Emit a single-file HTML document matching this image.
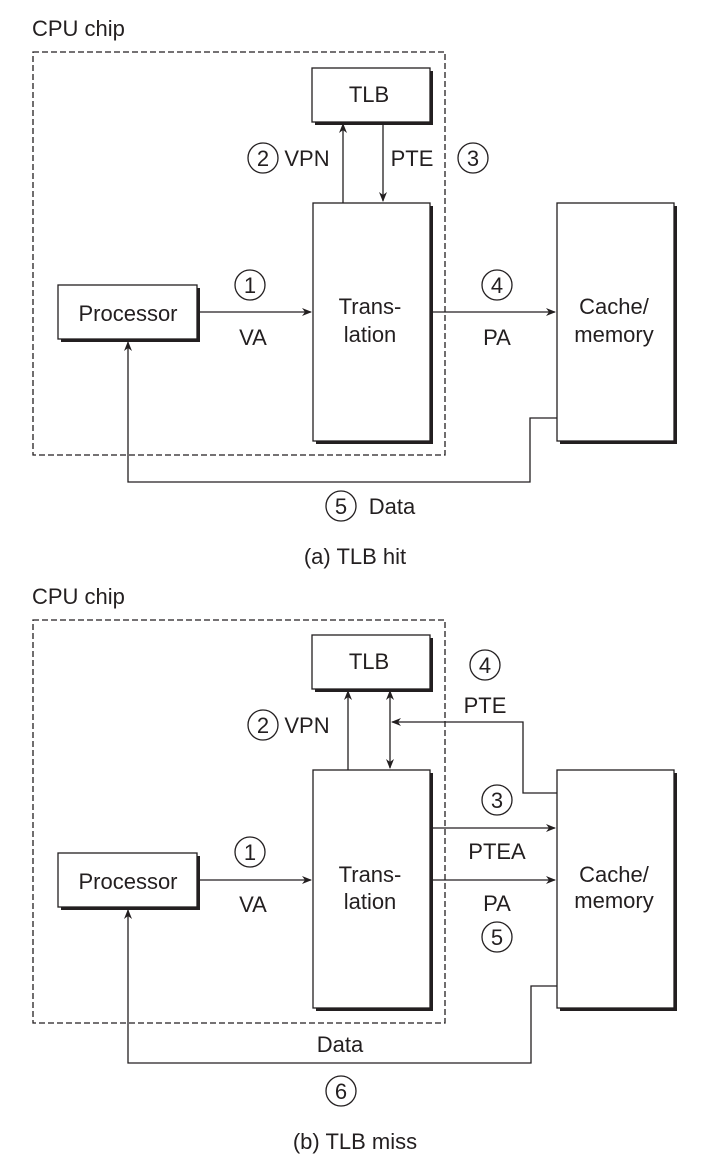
<!DOCTYPE html>
<html><head><meta charset="utf-8"><style>
html,body{margin:0;padding:0;background:#fff;}
svg{display:block}
text{font-family:"Liberation Sans",Arial,sans-serif;fill:#231f20;}
</style></head><body>
<svg width="728" height="1172" viewBox="0 0 728 1172" xmlns="http://www.w3.org/2000/svg">
<defs>
<marker id="ah" markerWidth="10" markerHeight="8" refX="9" refY="4" orient="auto" markerUnits="userSpaceOnUse">
<path d="M0,0 L10,4 L0,8 L3,4 Z" fill="#231f20"/></marker>
<marker id="as" markerWidth="10" markerHeight="8" refX="1" refY="4" orient="auto" markerUnits="userSpaceOnUse">
<path d="M10,0 L0,4 L10,8 L7,4 Z" fill="#231f20"/></marker>
</defs>
<g stroke="#231f20" fill="none" stroke-width="1.3">
<rect x="33" y="52" width="412" height="403" stroke-dasharray="6,3"/>
</g>
<g stroke="#231f20" stroke-width="1.3">
<g fill="#231f20" stroke="none">
<rect x="315" y="71" width="118" height="54"/>
<rect x="316" y="206" width="117" height="238"/>
<rect x="61" y="288" width="139" height="54"/>
<rect x="560" y="206" width="117" height="238"/>
<rect x="315" y="638" width="118" height="54"/>
<rect x="316" y="773" width="117" height="238"/>
<rect x="61" y="856" width="139" height="54"/>
<rect x="560" y="773" width="117" height="238"/>
</g>
<g fill="#fff">
<rect x="312" y="68" width="118" height="54"/>
<rect x="313" y="203" width="117" height="238"/>
<rect x="58" y="285" width="139" height="54"/>
<rect x="557" y="203" width="117" height="238"/>
<rect x="312" y="635" width="118" height="54"/>
<rect x="313" y="770" width="117" height="238"/>
<rect x="58" y="853" width="139" height="54"/>
<rect x="557" y="770" width="117" height="238"/>
</g>
</g>
<g stroke="#231f20" fill="none" stroke-width="1.3">
<rect x="33" y="620" width="412" height="403" stroke-dasharray="6,3"/>
<line x1="343" y1="203" x2="343" y2="124" marker-end="url(#ah)"/>
<line x1="383" y1="122" x2="383" y2="201" marker-end="url(#ah)"/>
<line x1="200" y1="312" x2="311" y2="312" marker-end="url(#ah)"/>
<line x1="433" y1="312" x2="555" y2="312" marker-end="url(#ah)"/>
<polyline points="557,418 530,418 530,482 128,482 128,342" marker-end="url(#ah)"/>
<circle cx="263" cy="158" r="15"/><circle cx="473" cy="158" r="15"/>
<circle cx="250" cy="285" r="15"/><circle cx="497" cy="285" r="15"/>
<circle cx="341" cy="506" r="15"/>
<line x1="348" y1="770" x2="348" y2="691" marker-end="url(#ah)"/>
<line x1="390" y1="691" x2="390" y2="768" marker-start="url(#as)" marker-end="url(#ah)"/>
<polyline points="557,793 523,793 523,722 392,722" marker-end="url(#ah)"/>
<line x1="433" y1="828" x2="555" y2="828" marker-end="url(#ah)"/>
<line x1="433" y1="880" x2="555" y2="880" marker-end="url(#ah)"/>
<line x1="200" y1="880" x2="311" y2="880" marker-end="url(#ah)"/>
<polyline points="557,986 531,986 531,1063 128,1063 128,910" marker-end="url(#ah)"/>
<circle cx="263" cy="725" r="15"/><circle cx="485" cy="665" r="15"/>
<circle cx="250" cy="852" r="15"/><circle cx="497" cy="800" r="15"/>
<circle cx="497" cy="937" r="15"/><circle cx="341" cy="1091" r="15"/>
</g>
<g font-size="22" text-anchor="middle">
<text x="32" y="36" text-anchor="start">CPU chip</text>
<text x="369" y="102">TLB</text>
<text x="263" y="166">2</text><text x="307" y="166">VPN</text>
<text x="412" y="166">PTE</text><text x="473" y="166">3</text>
<text x="250" y="293">1</text><text x="497" y="293">4</text>
<text x="128" y="321">Processor</text>
<text x="370" y="314">Trans-</text><text x="370" y="342">lation</text>
<text x="614" y="314">Cache/</text><text x="614" y="342">memory</text>
<text x="253" y="345">VA</text><text x="497" y="345">PA</text>
<text x="341" y="514">5</text><text x="392" y="514">Data</text>
<text x="355" y="564">(a) TLB hit</text>

<text x="32" y="604" text-anchor="start">CPU chip</text>
<text x="369" y="669">TLB</text>
<text x="263" y="733">2</text><text x="307" y="733">VPN</text>
<text x="485" y="673">4</text><text x="485" y="713">PTE</text>
<text x="497" y="808">3</text><text x="497" y="859">PTEA</text>
<text x="250" y="860">1</text>
<text x="128" y="889">Processor</text>
<text x="370" y="882">Trans-</text><text x="370" y="909">lation</text>
<text x="614" y="882">Cache/</text><text x="614" y="908">memory</text>
<text x="253" y="912">VA</text><text x="497" y="911">PA</text>
<text x="497" y="945">5</text>
<text x="340" y="1052">Data</text>
<text x="341" y="1099">6</text>
<text x="355" y="1149">(b) TLB miss</text>
</g>
</svg>
</body></html>
